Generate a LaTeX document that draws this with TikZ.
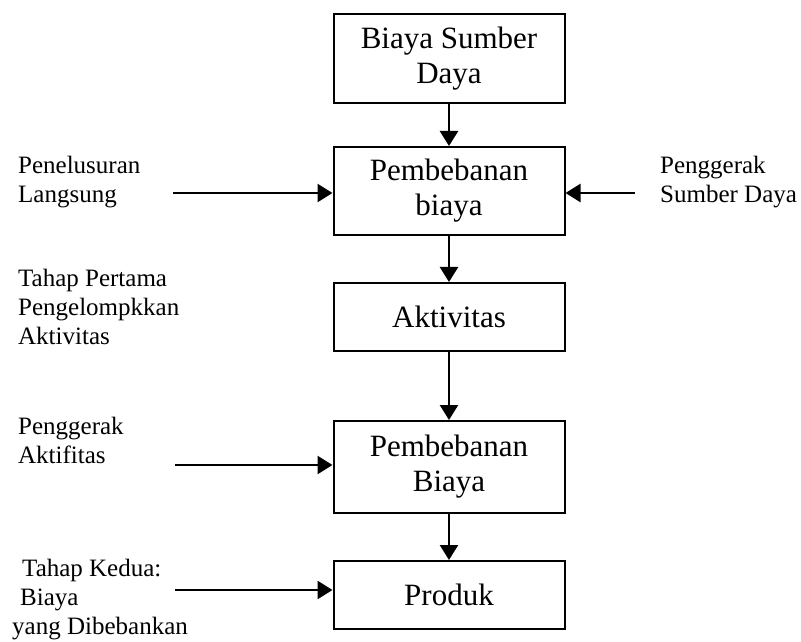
\documentclass[tikz,border=0pt]{standalone}
\usepackage{fontspec}
\setmainfont{Liberation Serif}
\usetikzlibrary{arrows.meta,positioning}

\begin{document}
\begin{tikzpicture}[
  box/.style={draw, line width=2pt, minimum width=231pt, align=center,
    font=\fontsize{31}{35}\selectfont, inner sep=0pt},
  side/.style={align=left, inner sep=0pt, anchor=base west,
    font=\fontsize{25}{29}\selectfont},
  arr/.style={-{Triangle[length=15pt,width=18pt]}, line width=2.4pt},
  node distance=42pt,
]
\useasboundingbox (0,0) rectangle (801pt,641pt);

% Boxes
\node[box, minimum height=89pt] (sumber) at (449pt,582.5pt) {Biaya Sumber\\Daya};
\node[box, minimum height=88pt, below=of sumber] (beban1) {Pembebanan\\biaya};
\node[box, minimum height=68pt, below=46pt of beban1] (aktiv) {Aktivitas};
\node[box, minimum height=92pt, below=68pt of aktiv] (beban2) {Pembebanan\\Biaya};
\node[box, minimum height=68pt, below=46pt of beban2] (produk) {Produk};

% Side labels (anchored at the last line)
\node[side] (telusur) at (18pt,438pt) {Penelusuran\\Langsung};
\node[side] (tahap1) at (18pt,297pt) {Tahap Pertama\\Pengelompkkan\\Aktivitas};
\node[side] (gerak2) at (18pt,178pt) {Penggerak\\Aktifitas};
\node[side] (tahap2) at (12pt,7pt) {\hspace{10pt}Tahap Kedua:\\\hspace{8pt}Biaya\\yang Dibebankan};
\node[side] (gerak1) at (660pt,438pt) {Penggerak\\Sumber Daya};

% Arrow starts
\coordinate (telusur-a) at (173pt,448pt);
\coordinate (gerak1-a) at (635pt,448pt);
\coordinate (gerak2-a) at (175pt,176pt);
\coordinate (tahap2-a) at (175pt,51pt);

% Arrows
\draw[arr] (sumber) -- (beban1);
\draw[arr] (beban1) -- (aktiv);
\draw[arr] (aktiv) -- (beban2);
\draw[arr] (beban2) -- (produk);
\draw[arr] (telusur-a) -- (telusur-a -| beban1.west);
\draw[arr] (gerak1-a) -- (gerak1-a -| beban1.east);
\draw[arr] (gerak2-a) -- (gerak2-a -| beban2.west);
\draw[arr] (tahap2-a) -- (tahap2-a -| produk.west);

\end{tikzpicture}
\end{document}
